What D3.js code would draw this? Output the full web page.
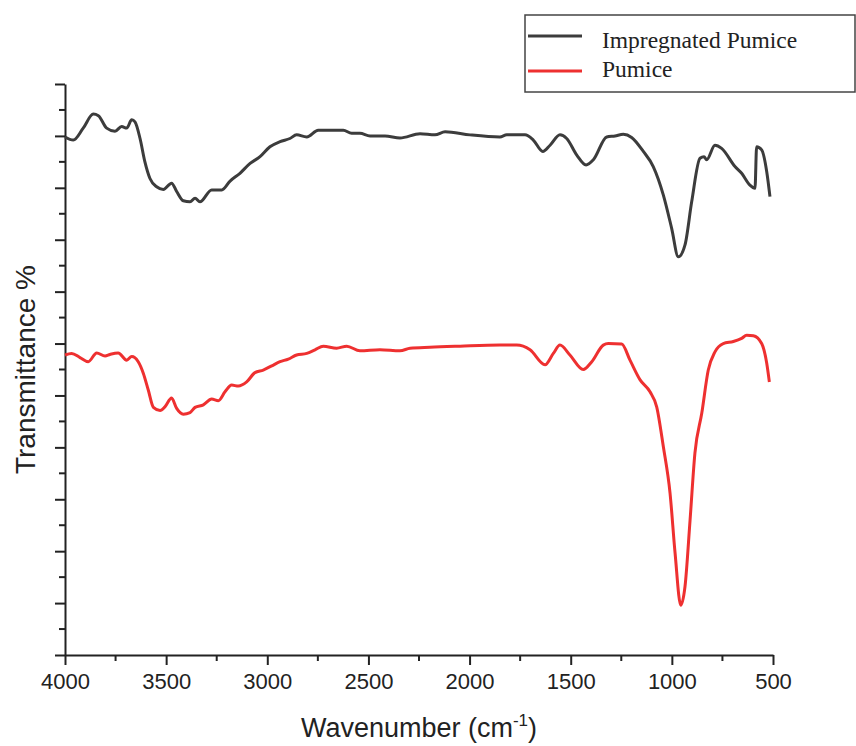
<!DOCTYPE html>
<html lang="en">
  <head>
    <meta charset="UTF-8" />
    <title>FTIR Pumice</title>
    <style>
      body {
        margin: 0;
        background: #fff;
      }
      #chart {
        width: 856px;
        height: 746px;
      }
      .axis path,
      .axis line {
        stroke: #222;
        stroke-width: 2px;
      }
      .axis text {
        font-family: "Liberation Sans", Arial, sans-serif;
        font-size: 22px;
        fill: #222;
      }
    </style>
  </head>
  <body>
    <div id="chart"></div>

    <script src="https://d3js.org/d3.v7.min.js"></script>
    <script>
      // wavenumbers (cm-1) and transmittance
      const impregnatedWave = [
        4000, 3959, 3910, 3860, 3835, 3794, 3753, 3720, 3695, 3670, 3654, 3629,
        3605, 3580, 3547, 3514, 3473, 3448, 3415, 3382, 3357, 3333, 3275, 3225,
        3184, 3135, 3085, 3036, 2987, 2937, 2888, 2855, 2805, 2748, 2624, 2583,
        2542, 2492, 2418, 2344, 2245, 2171, 2121, 1998, 1850, 1816, 1726, 1685,
        1638, 1602, 1553, 1520, 1470, 1424, 1388, 1322, 1281, 1240, 1199, 1141,
        1092, 1042, 1001, 968, 935, 902, 861, 841, 828, 787, 754, 688, 655, 614,
        589, 581, 556, 531, 515,
      ];
      const impregnatedT = [
        99.8, 99.2, 101.5, 104.2, 103.9, 101.5, 100.9, 101.8, 101.5, 103.1,
        102.7, 99.5, 95.0, 91.8, 90.2, 89.7, 90.9, 89.3, 87.5, 87.3, 88.0, 87.3,
        89.6, 89.6, 91.3, 92.8, 94.7, 96.0, 97.9, 98.9, 99.5, 100.2, 99.8,
        101.1, 101.1, 100.5, 100.5, 100.0, 100.0, 99.6, 100.4, 100.2, 100.8,
        100.2, 99.8, 100.2, 100.2, 99.2, 97.0, 98.2, 100.2, 99.5, 96.3, 94.4,
        95.4, 99.8, 100.0, 100.3, 99.7, 97.0, 94.1, 88.6, 82.2, 76.7, 79.0,
        87.3, 95.7, 96.0, 95.4, 98.2, 97.6, 94.1, 92.8, 90.5, 89.9, 97.9, 97.3,
        93.1, 88.3,
      ];

      const pumiceWave = [
        4000, 3967, 3926, 3885, 3843, 3802, 3778, 3737, 3695, 3670, 3638, 3613,
        3588, 3563, 3530, 3506, 3473, 3448, 3415, 3382, 3357, 3316, 3275, 3242,
        3209, 3176, 3143, 3102, 3061, 3020, 2978, 2937, 2896, 2855, 2805, 2764,
        2723, 2657, 2607, 2542, 2443, 2344, 2294, 2196, 2047, 1850, 1767, 1701,
        1627, 1586, 1553, 1504, 1438, 1396, 1339, 1314, 1248, 1207, 1157, 1108,
        1075, 1042, 1009, 984, 956, 935, 910, 886, 852, 820, 787, 746, 696, 655,
        630, 597, 556, 531, 518,
      ];
      const pumiceT = [
        57.8, 58.1, 57.3, 56.5, 58.2, 57.6, 57.9, 58.2, 56.8, 57.5, 56.5, 54.3,
        51.0, 47.7, 47.1, 47.8, 49.5, 47.5, 46.4, 46.7, 47.7, 48.2, 49.3, 49.0,
        50.7, 52.0, 51.8, 52.6, 54.4, 54.9, 55.7, 56.5, 57.0, 57.8, 58.1, 58.8,
        59.5, 59.1, 59.5, 58.6, 58.8, 58.6, 59.1, 59.3, 59.5, 59.7, 59.7, 58.8,
        55.9, 58.1, 59.7, 57.8, 55.0, 56.5, 59.7, 60.0, 59.9, 56.8, 53.0, 50.7,
        47.8, 40.1, 31.2, 19.6, 9.6, 13.2, 26.0, 38.9, 46.6, 54.9, 58.4, 60.0,
        60.4, 61.0, 61.6, 61.5, 60.0, 56.2, 52.6,
      ];

      const xTicks = [4000, 3500, 3000, 2500, 2000, 1500, 1000, 500];
      const seriesNames = ["Impregnated Pumice", "Pumice"];
      const seriesColors = ["#3c3c3c", "#ee3030"];

      const width = 856,
        height = 746;
      const margin = { top: 84, right: 83, bottom: 91, left: 65 };

      const svg = d3
        .select("#chart")
        .append("svg")
        .attr("width", width)
        .attr("height", height);

      const x = d3
        .scaleLinear()
        .domain([4000, 500])
        .range([margin.left, width - margin.right]);
      const y = d3
        .scaleLinear()
        .domain([0, 110])
        .range([height - margin.bottom, margin.top]);

      // x axis: major ticks with labels, minor ticks in between
      const xAxis = svg
        .append("g")
        .attr("class", "axis")
        .attr("transform", `translate(0,${height - margin.bottom})`);
      xAxis.call(
        d3
          .axisBottom(x)
          .tickValues(xTicks)
          .tickFormat(d3.format("d"))
          .tickSize(10)
          .tickSizeOuter(0)
          .tickPadding(8)
      );
      xAxis
        .selectAll(".minor")
        .data(d3.range(3750, 500, -500))
        .enter()
        .append("line")
        .attr("class", "minor")
        .attr("x1", (d) => x(d))
        .attr("x2", (d) => x(d))
        .attr("y1", 0)
        .attr("y2", 6);

      // y axis: no labels
      const yAxis = svg
        .append("g")
        .attr("class", "axis")
        .attr("transform", `translate(${margin.left},0)`);
      yAxis.call(
        d3.axisLeft(y).tickValues(d3.range(0, 111, 10)).tickSize(10).tickSizeOuter(0).tickFormat("")
      );
      yAxis
        .selectAll(".minor")
        .data(d3.range(5, 110, 10))
        .enter()
        .append("line")
        .attr("class", "minor")
        .attr("x1", 0)
        .attr("x2", -6)
        .attr("y1", (d) => y(d))
        .attr("y2", (d) => y(d));

      // spectra
      const line = d3
        .line()
        .x((d) => x(d[0]))
        .y((d) => y(d[1]))
        .curve(d3.curveMonotoneX);

      const series = [
        d3.zip(impregnatedWave, impregnatedT),
        d3.zip(pumiceWave, pumiceT),
      ];

      svg
        .selectAll(".spectrum")
        .data(series)
        .enter()
        .append("path")
        .attr("class", "spectrum")
        .attr("d", line)
        .style("fill", "none")
        .style("stroke", (_, i) => seriesColors[i])
        .style("stroke-width", 3)
        .style("stroke-linejoin", "round");

      // axis titles
      const xTitle = svg
        .append("text")
        .attr("x", (margin.left + width - margin.right) / 2)
        .attr("y", 737)
        .attr("text-anchor", "middle")
        .style("font-family", "'Liberation Sans', Arial, sans-serif")
        .style("font-size", "27px")
        .style("fill", "#222");
      xTitle.append("tspan").text("Wavenumber (cm");
      xTitle
        .append("tspan")
        .attr("dy", -11)
        .style("font-size", "17px")
        .text("-1");
      xTitle.append("tspan").attr("dy", 11).text(")");

      svg
        .append("text")
        .attr("transform", `translate(35,${(margin.top + height - margin.bottom) / 2}) rotate(-90)`)
        .attr("text-anchor", "middle")
        .style("font-family", "'Liberation Sans', Arial, sans-serif")
        .style("font-size", "28px")
        .style("fill", "#222")
        .text("Transmittance %");

      // legend box
      const legend = svg.append("g").attr("transform", "translate(525,15)");
      legend
        .append("rect")
        .attr("width", 330)
        .attr("height", 77)
        .style("fill", "#fff")
        .style("stroke", "#444")
        .style("stroke-width", 1.5);

      legend
        .selectAll(".key")
        .data(seriesNames)
        .enter()
        .append("line")
        .attr("class", "key")
        .attr("x1", 3)
        .attr("x2", 57)
        .attr("y1", (_, i) => 21 + i * 35)
        .attr("y2", (_, i) => 21 + i * 35)
        .style("stroke", (_, i) => seriesColors[i])
        .style("stroke-width", 3);

      legend
        .selectAll(".name")
        .data(seriesNames)
        .enter()
        .append("text")
        .attr("class", "name")
        .attr("x", 77)
        .attr("y", (_, i) => 33 + i * 29)
        .style("font-family", "'Liberation Serif', 'Times New Roman', serif")
        .style("font-size", "23.5px")
        .style("fill", "#222")
        .text((d) => d);
    </script>
  </body>
</html>
